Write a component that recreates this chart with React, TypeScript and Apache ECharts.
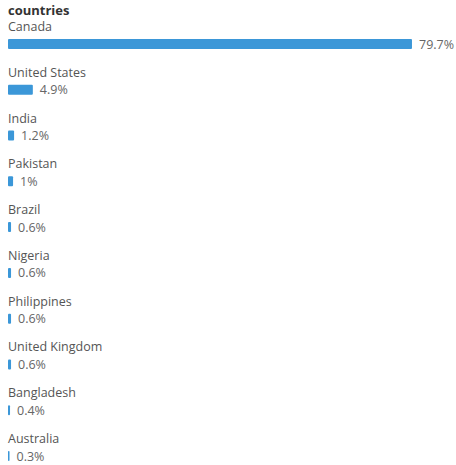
import React, { useEffect, useRef } from "react";
import * as echarts from "echarts";

const countries = [
  "Canada",
  "United States",
  "India",
  "Pakistan",
  "Brazil",
  "Nigeria",
  "Philippines",
  "United Kingdom",
  "Bangladesh",
  "Australia",
];
const shares = [79.7, 4.9, 1.2, 1, 0.6, 0.6, 0.6, 0.6, 0.4, 0.3];
const titleText = "countries";

export default function App() {
  const ref = useRef<HTMLDivElement>(null);
  useEffect(() => {
    document.body.style.margin = "0";
    const chart = echarts.init(ref.current!, null, { renderer: "svg" });
    const font = "'Open Sans', 'Noto Sans', sans-serif";
    chart.setOption({
      animation: false,
      backgroundColor: "#ffffff",
      title: {
        text: titleText,
        left: 8,
        top: 2,
        padding: 0,
        textStyle: { fontSize: 13, fontWeight: "bold", color: "#333", fontFamily: font, lineHeight: 15 },
      },
      grid: { left: 8, right: 42.5, top: 44, height: 412, containLabel: false },
      xAxis: {
        type: "value",
        min: 0,
        max: 80,
        show: false,
      },
      yAxis: {
        type: "category",
        data: countries,
        inverse: true,
        boundaryGap: false,
        axisLine: { show: false },
        axisTick: { show: false },
        splitLine: { show: false },
        axisLabel: {
          inside: true,
          margin: 0,
          align: "left",
          verticalAlign: "bottom",
          lineHeight: 15,
          padding: [0, 0, 10, 0],
          fontSize: 12.5,
          color: "#555",
          fontFamily: font,
        },
      },
      series: [
        {
          type: "bar",
          data: shares,
          barWidth: 10,
          itemStyle: { color: "#3b97d8", borderRadius: 1 },
          label: {
            show: true,
            position: "right",
            distance: 7,
            formatter: (p: any) => p.value + "%",
            fontSize: 12.5,
            color: "#666",
            fontFamily: font,
          },
          silent: true,
        },
      ],
    });
    return () => chart.dispose();
  }, []);
  return <div ref={ref} style={{ width: 456, height: 465 }} />;
}
